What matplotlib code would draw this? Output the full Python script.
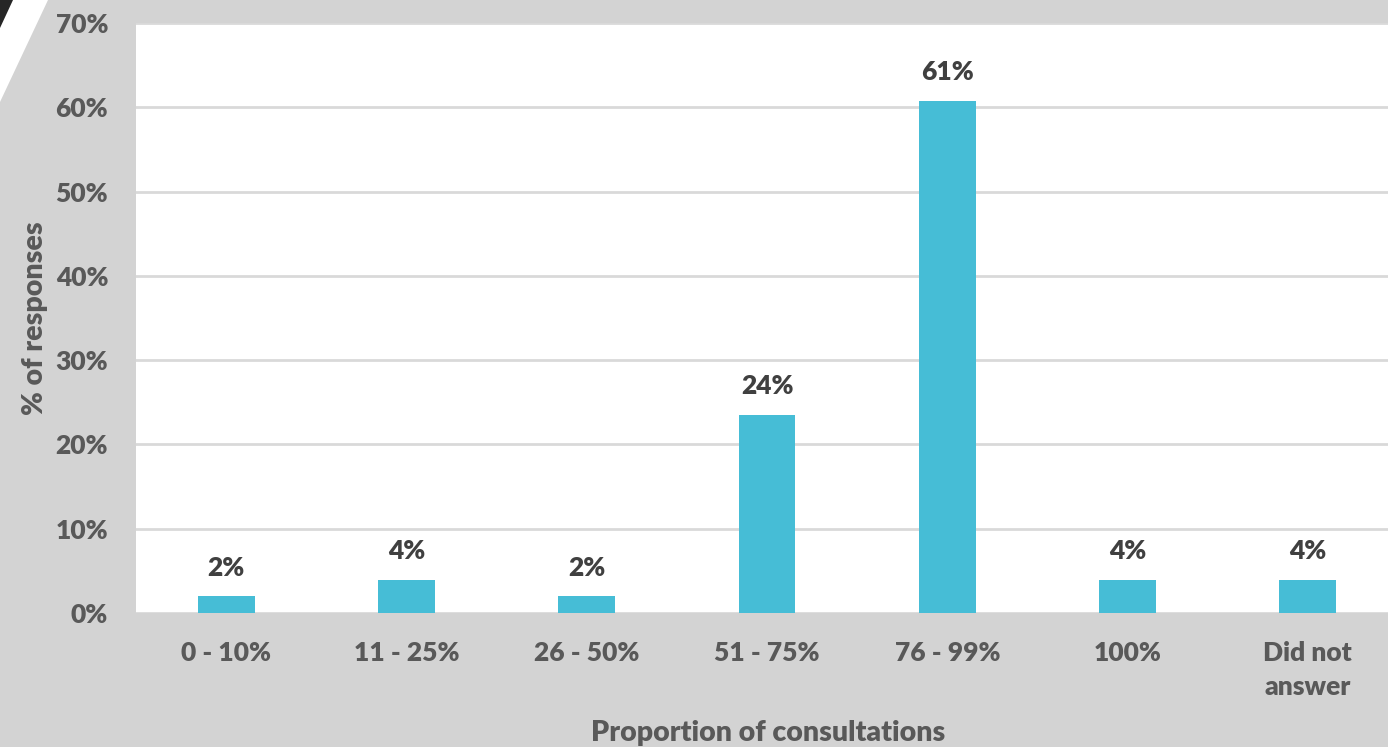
import matplotlib.pyplot as plt
from matplotlib.patches import Polygon
import numpy as np

categories = ['0 - 10%', '11 - 25%', '26 - 50%', '51 - 75%', '76 - 99%', '100%', 'Did not\nanswer']
responses = [1.96, 3.92, 1.96, 23.53, 60.78, 3.92, 3.92]
yticks = [0, 10, 20, 30, 40, 50, 60, 70]

BG = '#d3d3d3'
BAR = '#46bdd6'
TICK = '#595959'
LABEL = '#404040'

plt.rcParams['font.family'] = ['Lato', 'DejaVu Sans']

fig = plt.figure(figsize=(13.88, 7.47), dpi=100, facecolor=BG)
W, H = 1388, 747

# corner decoration
def px(pts):
    return [(x / W, 1 - y / H) for x, y in pts]

fig.patches.append(Polygon(px([(0, 0), (48, 0), (0, 102)]), closed=True,
                           transform=fig.transFigure, facecolor='white', edgecolor='none'))
fig.patches.append(Polygon(px([(0, 0), (13, 0), (0, 28)]), closed=True,
                           transform=fig.transFigure, facecolor='#262626', edgecolor='none'))

# plot area runs a little past the right edge of the figure
ax = fig.add_axes([136 / W, 1 - 613 / H, (1398 - 136) / W, (613 - 23) / H])
ax.set_facecolor('white')

x = np.arange(len(categories))
ax.bar(x, responses, width=0.316, color=BAR, zorder=3)
for xi, v in zip(x, responses):
    ax.annotate('{:.0f}%'.format(v), (xi, v), xytext=(0, 12), textcoords='offset points',
                ha='center', va='bottom', fontsize=19, fontweight='heavy', color=LABEL)

ax.set_xlim(-0.5, len(categories) - 0.5)
ax.set_ylim(0, 70)
ax.set_yticks(yticks)
ax.set_yticklabels(['{}%'.format(t) for t in yticks])
ax.set_xticks(x)
ax.set_xticklabels(categories, linespacing=1.5, va='top')
for t in ax.get_xticklabels() + ax.get_yticklabels():
    t.set_fontweight('heavy')
ax.tick_params(axis='both', length=0, labelsize=19, labelcolor=TICK)
ax.tick_params(axis='y', pad=20)
ax.tick_params(axis='x', pad=20)
ax.yaxis.grid(True, color='#d9d9d9', linewidth=2, zorder=1)
ax.set_axisbelow(True)
for s in ax.spines.values():
    s.set_visible(False)

fig.text(35 / W, 1 - 318 / H, '% of responses', rotation=90, ha='center', va='center',
         fontsize=20.5, fontweight='heavy', color=TICK)
fig.text(768 / W, 1 - 733 / H, 'Proportion of consultations', ha='center', va='center',
         fontsize=20.5, fontweight='heavy', color=TICK)

fig.savefig('out.png', dpi=100, facecolor=BG)
